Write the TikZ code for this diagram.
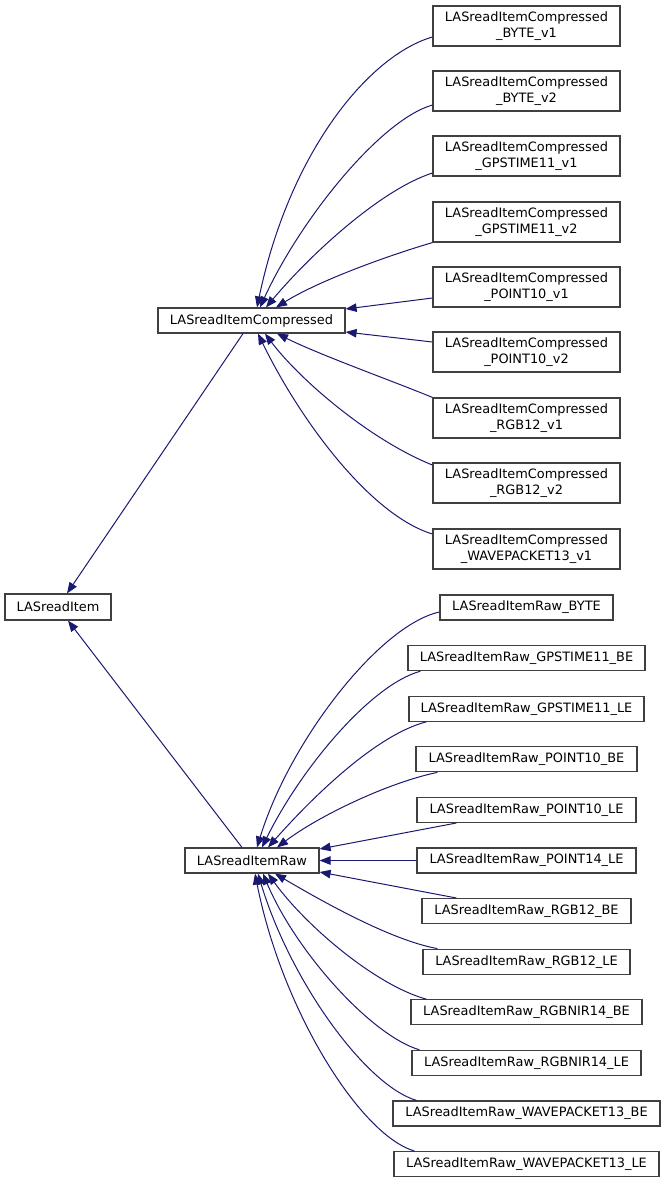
\documentclass[tikz,border=0pt]{standalone}
\usepackage{fontspec}
\setmainfont{DejaVu Sans}
\usetikzlibrary{arrows.meta}
\definecolor{edgeblue}{HTML}{191970}
\definecolor{boxgray}{HTML}{404040}
\tikzset{
  cls/.style={draw=boxgray, line width=1.2pt, fill=white, inner sep=0pt, align=center,
    font=\fontsize{12.9}{15.5}\selectfont, minimum height=25pt},
  cls2/.style={cls, minimum height=40pt, minimum width=187pt},
  inh/.style={draw=edgeblue, line width=1pt, -{Triangle[length=11pt,width=8.5pt]}},
}
\begin{document}
\begin{tikzpicture}[x=1pt,y=-1pt]
\path[use as bounding box] (0,0) rectangle (665,1183);

% base
\node[cls, minimum width=106pt, minimum height=26pt] (item) at (58,607) {LASreadItem};
\node[cls, minimum width=187pt] (cmp) at (251.5,320.5) {LASreadItemCompressed};
\node[cls, minimum width=134pt] (raw) at (252,860.5) {LASreadItemRaw};

% compressed children
\node[cls2] (c1) at (526.5,26) {LASreadItemCompressed\\\_BYTE\_v1};
\node[cls2] (c2) at (526.5,91) {LASreadItemCompressed\\\_BYTE\_v2};
\node[cls2] (c3) at (526.5,156) {LASreadItemCompressed\\\_GPSTIME11\_v1};
\node[cls2] (c4) at (526.5,222) {LASreadItemCompressed\\\_GPSTIME11\_v2};
\node[cls2] (c5) at (526.5,287) {LASreadItemCompressed\\\_POINT10\_v1};
\node[cls2] (c6) at (526.5,352) {LASreadItemCompressed\\\_POINT10\_v2};
\node[cls2] (c7) at (526.5,418) {LASreadItemCompressed\\\_RGB12\_v1};
\node[cls2] (c8) at (526.5,483) {LASreadItemCompressed\\\_RGB12\_v2};
\node[cls2] (c9) at (526.5,549) {LASreadItemCompressed\\\_WAVEPACKET13\_v1};

% raw children
\node[cls, minimum width=173pt] (r0) at (526.5,607.5) {LASreadItemRaw\_BYTE};
\node[cls, minimum width=237pt] (r1) at (526.5,658.1) {LASreadItemRaw\_GPSTIME11\_BE};
\node[cls, minimum width=235pt] (r2) at (526.5,708.7) {LASreadItemRaw\_GPSTIME11\_LE};
\node[cls, minimum width=221pt] (r3) at (526.5,759.3) {LASreadItemRaw\_POINT10\_BE};
\node[cls, minimum width=219pt] (r4) at (526.5,809.9) {LASreadItemRaw\_POINT10\_LE};
\node[cls, minimum width=219pt] (r5) at (526.5,860.5) {LASreadItemRaw\_POINT14\_LE};
\node[cls, minimum width=209pt] (r6) at (526.5,911.1) {LASreadItemRaw\_RGB12\_BE};
\node[cls, minimum width=207pt] (r7) at (526.5,961.7) {LASreadItemRaw\_RGB12\_LE};
\node[cls, minimum width=231pt] (r8) at (526.5,1012.3) {LASreadItemRaw\_RGBNIR14\_BE};
\node[cls, minimum width=229pt] (r9) at (526.5,1062.9) {LASreadItemRaw\_RGBNIR14\_LE};
\node[cls, minimum width=267pt] (r10) at (526.5,1113.5) {LASreadItemRaw\_WAVEPACKET13\_BE};
\node[cls, minimum width=265pt] (r11) at (526.5,1164.1) {LASreadItemRaw\_WAVEPACKET13\_LE};

% edges to LASreadItem
\draw[inh] ([shift={(-8.5,0)}]cmp.south) -- ([shift={(9,0)}]item.north);
\draw[inh] ([shift={(-10,0)}]raw.north) -- ([shift={(10,0)}]item.south);

% compressed edges
\draw[inh] ([shift={(0,11)}]c1.west) .. controls (370,55) and (290,150) .. ([shift={(5.5,0)}]cmp.north);
\draw[inh] ([shift={(0,14)}]c2.west) .. controls (380,120) and (300,220) .. ([shift={(8.5,0)}]cmp.north);
\draw[inh] ([shift={(0,17)}]c3.west) .. controls (380,190) and (310,255) .. ([shift={(14.5,0)}]cmp.north);
\draw[inh] (c4.south west) .. controls (390,255) and (320,280) .. ([shift={(24.5,0)}]cmp.north);
\draw[inh] ([shift={(0,11)}]c5.west) -- ([shift={(0,-11.5)}]cmp.east);
\draw[inh] ([shift={(0,-10)}]c6.west) -- ([shift={(0,11.5)}]cmp.east);
\draw[inh] (c7.north west) .. controls (390,380) and (320,355) .. ([shift={(25.5,0)}]cmp.south);
\draw[inh] ([shift={(0,-18)}]c8.west) .. controls (370,440) and (300,380) .. ([shift={(13.5,0)}]cmp.south);
\draw[inh] ([shift={(0,-15)}]c9.west) .. controls (370,515) and (300,420) .. ([shift={(6.5,0)}]cmp.south);

% raw edges
\draw[inh] ([shift={(0,4.5)}]r0.west) .. controls (380,625) and (290,740) .. ([shift={(5,0)}]raw.north);
\draw[inh] ([shift={(13,0)}]r1.south west) .. controls (370,685) and (300,770) .. ([shift={(10,0)}]raw.north);
\draw[inh] ([shift={(18,0)}]r2.south west) .. controls (375,735) and (310,800) .. ([shift={(16,0)}]raw.north);
\draw[inh] ([shift={(22,0)}]r3.south west) .. controls (390,782) and (320,815) .. ([shift={(25,0)}]raw.north);
\draw[inh] ([shift={(40,0)}]r4.south west) -- ([shift={(0,-11.5)}]raw.east);
\draw[inh] (r5.west) -- (raw.east);
\draw[inh] ([shift={(35,0)}]r6.north west) -- ([shift={(0,11.5)}]raw.east);
\draw[inh] ([shift={(15,0)}]r7.north west) .. controls (390,940) and (320,900) .. ([shift={(23,0)}]raw.south);
\draw[inh] ([shift={(16,0)}]r8.north west) .. controls (375,985) and (305,925) .. ([shift={(16,0)}]raw.south);
\draw[inh] ([shift={(8,0)}]r9.north west) .. controls (370,1035) and (295,950) .. ([shift={(11,0)}]raw.south);
\draw[inh] ([shift={(24,0)}]r10.north west) .. controls (365,1085) and (290,980) .. ([shift={(6,0)}]raw.south);
\draw[inh] ([shift={(21,0)}]r11.north west) .. controls (360,1135) and (282,1010) .. ([shift={(3,0)}]raw.south);
\end{tikzpicture}
\end{document}
